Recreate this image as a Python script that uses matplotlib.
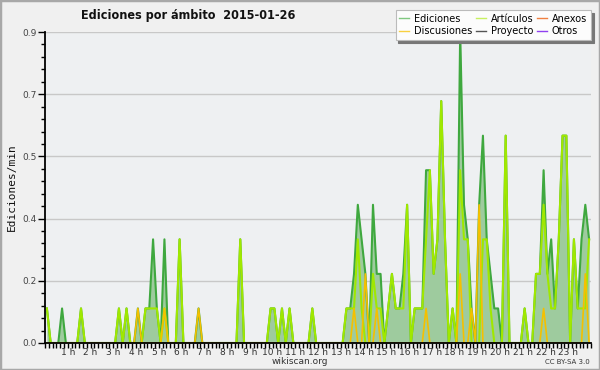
import matplotlib
matplotlib.use('Agg')
import matplotlib.pyplot as plt
import numpy as np
from matplotlib.patches import Rectangle
from matplotlib.lines import Line2D

# ---- data: edits per minute, 10-minute bins (144 bins over 24 h) ----
ediciones = [
    0.1, 0, 0, 0, 0.1, 0, 0, 0, 0, 0.1, 0, 0,
    0, 0, 0, 0, 0, 0, 0, 0.1, 0, 0.1, 0, 0,
    0.1, 0, 0.1, 0.1, 0.3, 0.1, 0, 0.3, 0, 0, 0, 0.3,
    0, 0, 0, 0, 0.1, 0, 0, 0, 0, 0, 0, 0,
    0, 0, 0, 0.3, 0, 0, 0, 0, 0, 0, 0, 0.1,
    0.1, 0, 0.1, 0, 0.1, 0, 0, 0, 0, 0, 0.1, 0,
    0, 0, 0, 0, 0, 0, 0, 0.1, 0.1, 0.2, 0.4, 0.3,
    0.2, 0, 0.4, 0.2, 0.2, 0, 0.1, 0.2, 0.1, 0.1, 0.2, 0.4,
    0, 0.1, 0.1, 0.1, 0.5, 0.5, 0.2, 0.3, 0.7, 0.3, 0, 0.1,
    0, 0.9, 0.4, 0.3, 0.1, 0, 0.4, 0.6, 0.3, 0.2, 0.1, 0.1,
    0, 0.6, 0, 0, 0, 0, 0.1, 0, 0, 0.2, 0.2, 0.5,
    0.2, 0.3, 0.1, 0.3, 0.6, 0.6, 0, 0.3, 0.1, 0.3, 0.4, 0.3,
]
articulos = [
    0.1, 0, 0, 0, 0, 0, 0, 0, 0, 0.1, 0, 0,
    0, 0, 0, 0, 0, 0, 0, 0.1, 0, 0.1, 0, 0,
    0, 0, 0.1, 0.1, 0.1, 0.1, 0, 0.1, 0, 0, 0, 0.3,
    0, 0, 0, 0, 0, 0, 0, 0, 0, 0, 0, 0,
    0, 0, 0, 0.3, 0, 0, 0, 0, 0, 0, 0, 0.1,
    0.1, 0, 0.1, 0, 0.1, 0, 0, 0, 0, 0, 0.1, 0,
    0, 0, 0, 0, 0, 0, 0, 0.1, 0.1, 0.1, 0.3, 0.1,
    0, 0, 0.2, 0.1, 0.1, 0, 0.1, 0.2, 0.1, 0.1, 0.1, 0.4,
    0, 0.1, 0.1, 0.1, 0.3, 0.5, 0.2, 0.3, 0.7, 0.3, 0, 0.1,
    0, 0.5, 0.3, 0.3, 0, 0, 0, 0.3, 0.3, 0.1, 0, 0,
    0, 0.6, 0, 0, 0, 0, 0.1, 0, 0, 0.2, 0.2, 0.4,
    0.2, 0.1, 0.1, 0.3, 0.6, 0.6, 0, 0.3, 0.1, 0.1, 0.1, 0.3,
]
discusiones = [
    0, 0, 0, 0, 0, 0, 0, 0, 0, 0, 0, 0,
    0, 0, 0, 0, 0, 0, 0, 0, 0, 0, 0, 0,
    0.1, 0, 0, 0, 0, 0, 0, 0.1, 0, 0, 0, 0,
    0, 0, 0, 0, 0.1, 0, 0, 0, 0, 0, 0, 0,
    0, 0, 0, 0, 0, 0, 0, 0, 0, 0, 0, 0,
    0, 0, 0, 0, 0, 0, 0, 0, 0, 0, 0, 0,
    0, 0, 0, 0, 0, 0, 0, 0, 0, 0.1, 0, 0,
    0.2, 0, 0, 0.1, 0, 0, 0, 0, 0, 0, 0, 0,
    0, 0, 0, 0, 0.1, 0, 0, 0, 0, 0, 0, 0,
    0, 0.2, 0, 0, 0.1, 0, 0.4, 0, 0, 0, 0, 0,
    0, 0, 0, 0, 0, 0, 0, 0, 0, 0, 0, 0.1,
    0, 0, 0, 0, 0, 0, 0, 0, 0, 0, 0.2, 0,
]
proyecto = [0] * 144
anexos = [0] * 144
otros = [0] * 144

hour_labels = [f"{h} h" for h in range(1, 24)]
ytick_vals = [0, 0.18, 0.36, 0.54, 0.72, 0.9]
ytick_labels = ["0.0", "0.2", "0.4", "0.5", "0.7", "0.9"]

# ---- figure ----
W, H = 600, 370
fig = plt.figure(figsize=(6, 3.7), dpi=100, facecolor='#f0f0f0')
fig.patches.append(Rectangle((0, 0), 1, 1, transform=fig.transFigure,
                             fill=False, edgecolor='#a8a8a8', lw=2.5))
ax = fig.add_axes([45 / W, 1 - 343 / H, 546 / W, 311 / H])
ax.set_facecolor('#eef0f2')

x = (np.arange(144) + 0.5) / 6.0
ed = np.array(ediciones)

ax.fill_between(x, ed, 0, color='#9ecb9e', lw=0, zorder=1)
ax.plot(x, ed, color='#3fa83f', lw=1.5, zorder=2)
for ser, col in [(otros, '#9040f0'), (anexos, '#f08040'), (proyecto, '#555555')]:
    ax.plot(x, ser, color=col, lw=1.0, zorder=2)
ax.plot(x, articulos, color='#a0e800', lw=1.5, zorder=3)
ax.plot(x, discusiones, color='#f5c000', lw=1.2, zorder=4)

ax.set_xlim(0, 24)
ax.set_ylim(0, 0.9)
ax.set_yticks(ytick_vals)
ax.set_yticklabels(ytick_labels)
ax.set_yticks(np.arange(0, 0.9001, 0.036), minor=True)
ax.set_xticks(range(1, 24))
ax.set_xticklabels(hour_labels)
ax.set_xticks(np.arange(0, 24.001, 1 / 6), minor=True)
ax.grid(axis='y', color='#c8c8c8', lw=1.0, zorder=0)
ax.set_axisbelow(True)

for s in ['top', 'right']:
    ax.spines[s].set_visible(False)
for s in ['left', 'bottom']:
    ax.spines[s].set_color('black')
    ax.spines[s].set_linewidth(1.3)
    ax.spines[s].set_zorder(6)

ax.tick_params(axis='y', which='major', length=5, width=1, labelsize=6.5,
               labelcolor='#444444', pad=1)
ax.tick_params(axis='y', which='minor', length=3, width=1)
ax.tick_params(axis='x', which='both', length=3.5, width=1, labelsize=6.5,
               labelcolor='#333333', pad=0)

ax.set_ylabel('Ediciones/min', family='DejaVu Sans Mono', fontsize=8,
              labelpad=4, color='#111111')

fig.text(188 / W, 1 - 15 / H, 'Ediciones por ámbito  2015-01-26',
         ha='center', va='center', fontsize=9, fontweight='bold',
         fontstretch='condensed', color='#111111')
fig.text(300 / W, 1 - 362 / H, 'wikiscan.org', ha='center', va='center',
         fontsize=6.5, color='#333333')
fig.text(590 / W, 1 - 362 / H, 'CC BY-SA 3.0', ha='right', va='center',
         fontsize=5, color='#333333')

handles = [
    Line2D([], [], color='#80c880', lw=1),
    Line2D([], [], color='#f8d040', lw=1),
    Line2D([], [], color='#c8f060', lw=1),
    Line2D([], [], color='#555555', lw=1),
    Line2D([], [], color='#f08040', lw=1),
    Line2D([], [], color='#9040f0', lw=1),
]
labels = ['Ediciones', 'Discusiones', 'Artículos', 'Proyecto', 'Anexos', 'Otros']
leg = fig.legend(handles, labels, ncol=3, loc='upper right',
                 bbox_to_anchor=(591 / W, 1 - 10 / H), fontsize=7,
                 frameon=True, fancybox=False, shadow={'color': '#777777', 'alpha': 1},
                 handlelength=1.0, handletextpad=0.5, columnspacing=0.4,
                 labelspacing=0.25, borderpad=0.4, borderaxespad=0)
leg.get_frame().set_facecolor('#fcfcfc')
leg.get_frame().set_edgecolor('#bbbbbb')
leg.get_frame().set_linewidth(0.8)
leg.set_zorder(10)

fig.savefig('out.png', dpi=100, facecolor=fig.get_facecolor())
